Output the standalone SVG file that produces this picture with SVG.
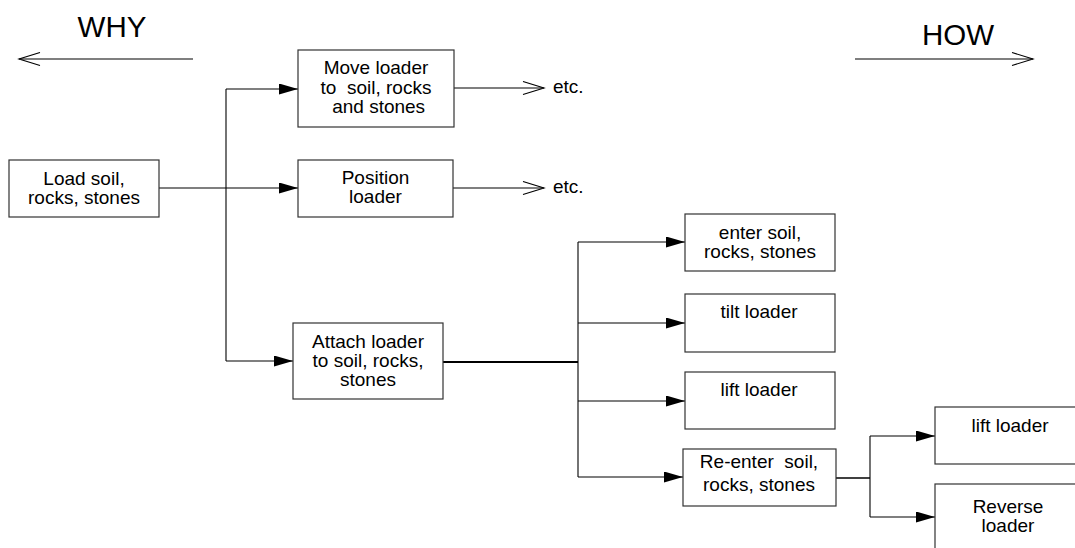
<svg xmlns="http://www.w3.org/2000/svg" width="1075" height="548" viewBox="0 0 1075 548">
<style>
text{font-family:"Liberation Sans",Arial,sans-serif;font-size:19px;fill:#000;text-anchor:middle;white-space:pre}
.big{font-size:29.5px}
.etc{text-anchor:start}
.box{fill:#fff;stroke:#333;stroke-width:1.2}
.c{fill:none;stroke:#000;stroke-width:1.1}
.th{stroke-width:2}
.fa{marker-end:url(#fill)}
.oa{marker-end:url(#open)}
</style>
<defs>
<marker id="fill" markerUnits="userSpaceOnUse" viewBox="0 0 19 11" refX="19" refY="5.5" markerWidth="19" markerHeight="11" orient="auto">
<path d="M0,0 L19,5.5 L0,11 z" fill="#000"/>
</marker>
<marker id="open" markerUnits="userSpaceOnUse" viewBox="-1 -1 24 15" refX="21" refY="6.5" markerWidth="24" markerHeight="15" orient="auto">
<path d="M0,0 L21,6.5 L0,13" fill="none" stroke="#000" stroke-width="1.1"/>
</marker>
</defs>
<rect width="1075" height="548" fill="#fff"/>
<g id="legend">
<text class="big" x="112" y="37">WHY</text>
<text class="big" x="958" y="45">HOW</text>
</g>
<g id="connectors">
<line class="c oa" x1="193" y1="59" x2="19" y2="59"/>
<line class="c oa" x1="855" y1="59" x2="1033" y2="59"/>
<line class="c fa" x1="159" y1="188" x2="298" y2="188"/>
<polyline class="c" points="226,89 226,361"/>
<line class="c fa" x1="226" y1="89" x2="298" y2="89"/>
<line class="c fa" x1="226" y1="361" x2="293" y2="361"/>
<line class="c oa" x1="454" y1="88" x2="544" y2="88"/>
<line class="c oa" x1="453" y1="188" x2="544" y2="188"/>
<line class="c th" x1="443" y1="362" x2="578" y2="362"/>
<line class="c" x1="578" y1="242" x2="578" y2="477"/>
<line class="c fa" x1="578" y1="242" x2="685" y2="242"/>
<line class="c fa" x1="578" y1="323" x2="685" y2="323"/>
<line class="c fa" x1="578" y1="401" x2="685" y2="401"/>
<line class="c fa" x1="578" y1="477" x2="683" y2="477"/>
<line class="c" style="stroke-width:1.6" x1="836" y1="478" x2="870" y2="478"/>
<line class="c" x1="870" y1="436" x2="870" y2="517"/>
<line class="c fa" x1="870" y1="436" x2="935" y2="436"/>
<line class="c fa" x1="870" y1="517" x2="935" y2="517"/>
</g>
<g id="etc1"><text class="etc" x="553" y="93">etc.</text></g>
<g id="etc2"><text class="etc" x="553" y="193">etc.</text></g>
<g id="load">
<rect class="box" x="9" y="160" width="150" height="57"/>
<text x="84" y="184.5">Load soil,</text>
<text x="84" y="203.5">rocks, stones</text>
</g>
<g id="move">
<rect class="box" x="298" y="50" width="156" height="77"/>
<text x="376" y="74">Move loader</text>
<text x="376" y="93.5">to  soil, rocks</text>
<text x="376" y="113"> and stones</text>
</g>
<g id="position">
<rect class="box" x="298" y="160" width="155" height="57"/>
<text x="375.5" y="184">Position</text>
<text x="375.5" y="203">loader</text>
</g>
<g id="attach">
<rect class="box" x="293" y="323" width="150" height="76"/>
<text x="368" y="347.5">Attach loader</text>
<text x="368" y="366.5">to soil, rocks,</text>
<text x="368" y="385.5">stones</text>
</g>
<g id="enter">
<rect class="box" x="685" y="214" width="150" height="57"/>
<text x="760" y="238.5">enter soil,</text>
<text x="760" y="257.5">rocks, stones</text>
</g>
<g id="tilt">
<rect class="box" x="685" y="294" width="150" height="58"/>
<text x="759" y="318">tilt loader</text>
</g>
<g id="lift">
<rect class="box" x="685" y="372" width="150" height="57"/>
<text x="759" y="396">lift loader</text>
</g>
<g id="reenter">
<rect class="box" x="683" y="449" width="153" height="57"/>
<text x="759" y="468">Re-enter  soil,</text>
<text x="759" y="490.5">rocks, stones</text>
</g>
<g id="lift2">
<rect class="box" x="935" y="407" width="160" height="57"/>
<text x="1010" y="431.5">lift loader</text>
</g>
<g id="reverse">
<rect class="box" x="935" y="484" width="160" height="80"/>
<text x="1008" y="512.5">Reverse</text>
<text x="1008" y="531.5">loader</text>
</g>
</svg>
